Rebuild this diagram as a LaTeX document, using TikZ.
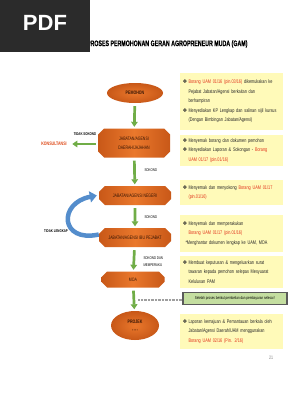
\documentclass[tikz,border=0pt]{standalone}
\usepackage{fontspec}
\setmainfont{Liberation Sans}
\newfontfamily\narrowfont[FakeStretch=0.72]{Liberation Sans}
\newfontfamily\titlefont[FakeStretch=0.66,FakeBold=0.6]{Liberation Sans}
\newfontfamily\symfont{DejaVu Sans}
\usetikzlibrary{shapes.geometric,shapes.misc,arrows.meta}

\definecolor{pdfgray}{RGB}{43,43,43}
\definecolor{boxlight}{RGB}{234,120,44}
\definecolor{boxdark}{RGB}{200,88,24}
\definecolor{boxtext}{RGB}{55,22,5}
\definecolor{flowgreen}{RGB}{112,173,71}
\definecolor{loopblue}{RGB}{84,141,204}
\definecolor{notebg}{RGB}{255,250,185}
\definecolor{notegreen}{RGB}{196,222,160}
\definecolor{notegray}{RGB}{90,90,90}
\definecolor{borangred}{RGB}{226,52,28}
\definecolor{konsulred}{RGB}{222,72,22}

\newcommand{\bul}{\makebox[6pt][l]{\symfont\char"2756}}
\newcommand{\cont}{\hspace*{6pt}}
\newcommand{\red}[1]{\textcolor{borangred}{#1}}

\begin{document}
\begin{tikzpicture}[x=1pt,y=-1pt,
  flowbox/.style={chamfered rectangle, chamfered rectangle xsep=3pt,
    chamfered rectangle ysep=3pt,
    left color=boxdark, right color=boxdark, middle color=boxlight,
    minimum width=72pt, inner sep=1pt, align=center, text=boxtext,
    font=\narrowfont\fontsize{4.9}{7.5}\selectfont},
  flowoval/.style={ellipse, inner color=boxlight, outer color=boxdark,
    inner sep=0pt, align=center, text=boxtext,
    font=\narrowfont\bfseries\fontsize{5}{7}\selectfont},
  infobox/.style={rectangle, fill=notebg, text width=98pt, inner xsep=2.5pt,
    align=left, text=black!85, font=\narrowfont\fontsize{5.3}{9.5}\selectfont},
  steplabel/.style={font=\narrowfont\fontsize{4}{6.5}\selectfont, align=left},
  greenarrow/.style={flowgreen, line width=2.7pt,
    -{Triangle[width=6.5pt,length=5pt]}, shorten <=3pt, shorten >=1.5pt},
  bluearrow/.style={loopblue, line width=4.5pt,
    -{Triangle[width=11pt,length=7pt]}}
]
  \useasboundingbox (0,0) rectangle (298,396);
  \fill[white] (0,0) rectangle (298,396);

  % Title
  \node[anchor=east, font=\titlefont\bfseries\fontsize{8}{8}\selectfont]
    (title) at (251,44) {PROSES PERMOHONAN GERAN AGROPRENEUR MUDA (GAM)};

  % PDF banner
  \fill[pdfgray] (0,0) rectangle (90,52);
  \node[text=white, font=\bfseries\fontsize{22}{22}\selectfont] (pdf) at (45,23) {PDF};

  % Flow on the left
  \node[flowoval, minimum width=56pt, minimum height=20pt] (pemohon) at (135,93) {PEMOHON};
  \node[flowbox, minimum height=29pt] (daerah) at (134,143) {JABATAN/AGENSI\\[1pt]DAERAH/JAJAHAN};
  \node[flowbox, minimum height=19pt] (negeri) at (135,195.5) {JABATAN/AGENSI NEGERI};
  \node[flowbox, minimum height=19pt] (ibu) at (135,237.5) {JABATAN/AGENSI IBU PEJABAT};
  \node[flowbox, minimum width=63pt, minimum height=16pt] (moa) at (133,279.5) {MOA};
  \node[flowoval, minimum width=48pt, minimum height=29pt] (projek) at (135,325.5)
    {PROJEK\\[1pt]{\fontsize{3.5}{4}\selectfont\textbullet\ \textbullet\ \textbullet\ \textbullet}};

  \node[font=\narrowfont\bfseries\fontsize{5}{6}\selectfont, text=konsulred] (konsul) at (54,144) {KONSULTANSI};

  % Green arrows
  \draw[greenarrow] (pemohon) -- (daerah);
  \draw[greenarrow] (daerah) -- (negeri);
  \draw[greenarrow] (negeri) -- (ibu);
  \draw[greenarrow] (ibu) -- (moa);
  \draw[greenarrow] (moa) -- (projek);
  \draw[greenarrow, shorten <=2pt, shorten >=2pt] (daerah.west |- konsul) -- (konsul);

  % Labels on the arrows
  \node[steplabel, font=\narrowfont\bfseries\fontsize{4}{6.5}\selectfont] (ltidak) at (85,134) {TIDAK SOKONG};
  \node[steplabel, anchor=west] (lsokong1) at (141,170) {SOKONG};
  \node[steplabel, anchor=west] (lsokong2) at (141,217.5) {SOKONG};
  \node[steplabel, anchor=west] (lsokong3) at (140,261.5) {SOKONG DAN\\MEMPERAKU};

  % Loop back when incomplete
  \draw[bluearrow] ([yshift=3pt]ibu.west) .. controls (60,243) and (58,203) .. ([xshift=-2pt]negeri.west);
  \node[steplabel, font=\narrowfont\bfseries\fontsize{4}{6.5}\selectfont] (llengkap) at (56,231) {TIDAK LENGKAP};

  % Notes on the right
  \node[infobox, minimum height=57pt] (info1) at (231.5,101.5)
    {\bul\red{Borang UAM 01/16 (pin.03/16)} dikemukakan ke\\
     \cont Pejabat Jabatan/Agensi berkaitan dan\\
     \cont berhampiran\\
     \bul Menyediakan KP Lengkap dan salinan sijil kursus\\
     \cont (Dengan Bimbingan Jabatan/Agensi)};
  \node[infobox, minimum height=31pt] (info2) at (231.5,150.5)
    {\bul Menyemak borang dan dokumen pemohon\\
     \bul Menyediakan Laporan \& Sokongan - \red{Borang}\\
     \cont\red{UAM 01/17 (pin.01/16)}};
  \node[infobox, minimum height=25pt] (info3) at (231.5,192.5)
    {\bul Menyemak dan menyokong \red{Borang UAM 01/17}\\
     \cont\red{(pin.01/16)}};
  \node[infobox, minimum height=37pt] (info4) at (231.5,233.5)
    {\bul Menyemak dan memperakukan\\
     \cont\red{Borang UAM 01/17 (pin.01/16)}\\
     \hspace*{3pt}*Menghantar dokumen lengkap ke UAM, MOA};
  \node[infobox, minimum height=32pt] (info5) at (231.5,272)
    {\bul Membuat keputusan \& mengeluarkan surat\\
     \cont tawaran kepada pemohon selepas Mesyuarat\\
     \cont Kelulusan PAM};
  \node[rectangle, draw=notegray, line width=1.5pt, fill=notegreen,
    minimum width=104pt, minimum height=12pt, inner sep=1pt,
    font=\narrowfont\fontsize{4.2}{5}\selectfont] (note) at (235,298.5)
    {Setelah proses berikut pembelian dan pembayaran selesai !};
  \node[infobox, minimum height=35pt] (info6) at (231.5,331.5)
    {\bul Laporan kemajuan \& Pemantauan berkala oleh\\
     \cont Jabatan/Agensi Daerah/UAM menggunakan\\
     \cont\red{Borang UAM 02/16 (Pin. 2/16)}};

  % Dotted link to the note
  \coordinate (dotstart) at (138,300);
  \draw[gray!75, line width=1.4pt, dash pattern=on 0.7pt off 0.7pt] (dotstart) -- (note.west |- dotstart);

  % Page number
  \node[text=gray, font=\narrowfont\fontsize{5}{6}\selectfont] (page) at (271,358) {21};
\end{tikzpicture}
\end{document}
